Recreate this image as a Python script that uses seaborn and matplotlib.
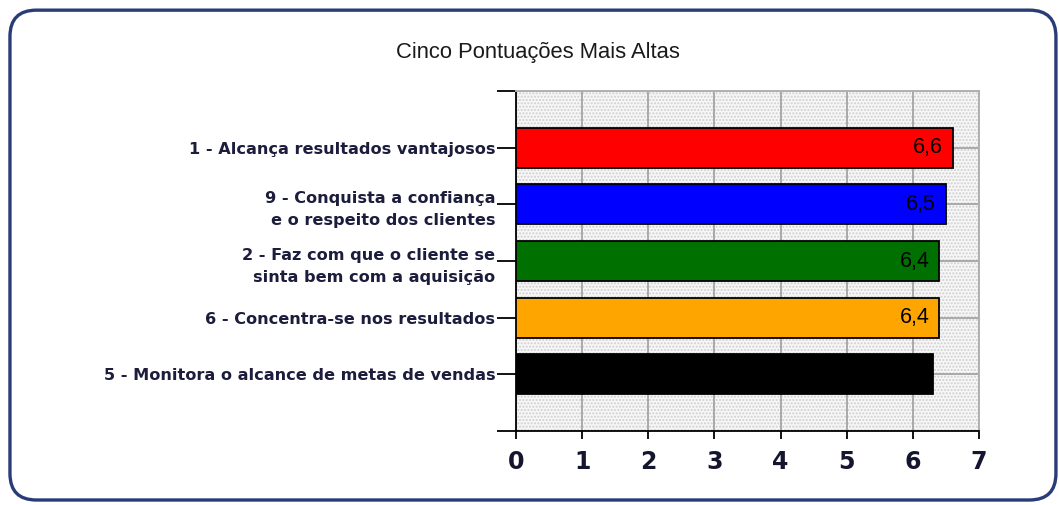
import matplotlib
matplotlib.use("Agg")
import matplotlib.pyplot as plt
from matplotlib.patches import FancyBboxPatch, Rectangle
import seaborn as sns
import pandas as pd

categories = [
    "1 - Alcança resultados vantajosos",
    "9 - Conquista a confiança\ne o respeito dos clientes",
    "2 - Faz com que o cliente se\nsinta bem com a aquisição",
    "6 - Concentra-se nos resultados",
    "5 - Monitora o alcance de metas de vendas",
]
values = [6.6, 6.5, 6.4, 6.4, 6.3]
value_labels = ["6,6", "6,5", "6,4", "6,4", "6,3"]
colors = ["#ff0000", "#0000ff", "#007000", "#ffa500", "#000000"]
title = "Cinco Pontuações Mais Altas"
x_ticks = [0, 1, 2, 3, 4, 5, 6, 7]

sns.set_theme(style="white")
plt.rcParams["font.family"] = ["DejaVu Sans"]
plt.rcParams["hatch.linewidth"] = 1.0

df = pd.DataFrame({"cat": categories, "val": values})

fig = plt.figure(figsize=(10.59, 5.05), dpi=100)
fig.patch.set_facecolor("white")

# rounded frame
frame = FancyBboxPatch((0.0094, 0.0099), 0.9877, 0.970,
                       boxstyle="round,pad=0,rounding_size=0.025",
                       transform=fig.transFigure, facecolor="none",
                       edgecolor="#2a3c78", linewidth=2.4,
                       mutation_aspect=1059/505)
fig.patches.append(frame)

ax = fig.add_axes([0.4873, 0.1465, 0.4372, 0.6733])
ax.set_facecolor("white")
# dotted background texture
ax.add_patch(Rectangle((0, 0), 1, 1, transform=ax.transAxes,
                       facecolor="#f7f7f7", edgecolor="#cfcfcf",
                       linewidth=0, hatch=".....", zorder=0))

sns.barplot(data=df, x="val", y="cat", hue="cat", palette=colors,
            orient="h", width=0.71, legend=False, ax=ax,
            edgecolor="black", linewidth=1.3, saturation=1, zorder=3)

bars = [p for p in ax.patches if p.get_width() > 0 and p.get_height() < 1]
for bar, lab in zip(bars, value_labels):
    w = bar.get_width()
    yc = bar.get_y() + bar.get_height() / 2
    ax.text(w - 0.15, yc, lab, ha="right", va="center",
            fontsize=15.5, family="Liberation Sans", color="#000000", zorder=4)

ax.set_xlim(0, 7)
ax.set_ylim(5, -1)
ax.set_xticks(x_ticks)
ax.set_xticklabels([str(t) for t in x_ticks], fontsize=17, fontweight="bold",
                   color="#151530")
ax.set_yticks([-1, 0, 1, 2, 3, 4, 5])
ax.set_yticklabels([""] + categories + [""], fontsize=11.6,
                   fontweight="bold", color="#1c1c3c", linespacing=1.6)
ax.set_xlabel("")
ax.set_ylabel("")

ax.grid(True, color="#a4a4a4", linewidth=1.3, zorder=1)
ax.set_axisbelow(True)
ax.tick_params(axis="x", direction="out", length=6, width=1.3, pad=8,
               color="black", bottom=True)
ax.tick_params(axis="y", direction="out", length=14, width=1.3, pad=1,
               color="black", left=True)
for s in ["left", "bottom"]:
    ax.spines[s].set_color("black")
    ax.spines[s].set_linewidth(1.3)
for s in ["top", "right"]:
    ax.spines[s].set_color("#b0b0b0")
    ax.spines[s].set_linewidth(1.4)

fig.text(0.508, 0.897, title, ha="center", va="center", fontsize=15.8,
         family="Liberation Sans", color="#1a1a1a")

fig.savefig("out.png", dpi=100)
